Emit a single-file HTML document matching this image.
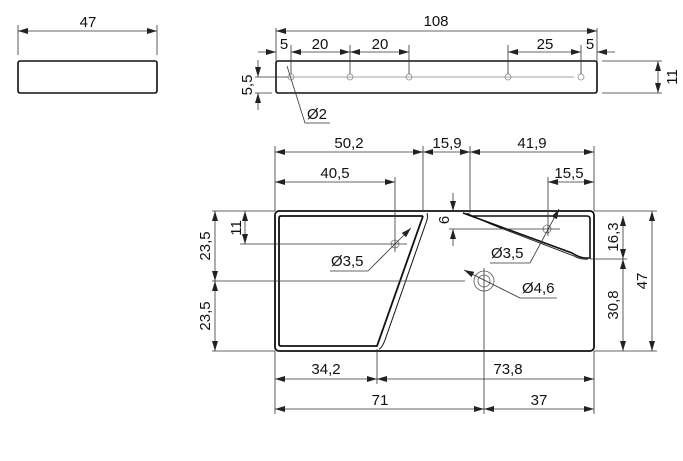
<!DOCTYPE html>
<html><head><meta charset="utf-8"><style>
html,body{margin:0;padding:0;background:#fff}
svg{display:block}
text{font-family:"Liberation Sans",sans-serif;font-size:15px;fill:#111}
</style></head><body>
<svg width="683" height="461" viewBox="0 0 683 461" xmlns="http://www.w3.org/2000/svg">
<defs>
<marker id="a" viewBox="0 0 10 6" refX="10" refY="3" markerWidth="10" markerHeight="6" orient="auto-start-reverse" markerUnits="userSpaceOnUse"><path d="M0,0 L10,3 L0,6 z" fill="#222"/></marker>
</defs>
<g stroke="#333" stroke-width="0.8" fill="none">
<!-- top-left block -->
<rect x="18" y="61" width="139" height="32" rx="2" stroke="#111" stroke-width="1.6"/>
<line x1="18" y1="25" x2="18" y2="55"/><line x1="157" y1="25" x2="157" y2="55"/>
<line x1="18" y1="31" x2="157" y2="31" marker-start="url(#a)" marker-end="url(#a)"/>
<!-- top bar -->
<rect x="276" y="61" width="321" height="32" rx="2" stroke="#111" stroke-width="1.6"/>
<line x1="276" y1="28" x2="276" y2="61"/><line x1="597" y1="28" x2="597" y2="61"/>
<line x1="276" y1="31" x2="597" y2="31" marker-start="url(#a)" marker-end="url(#a)"/>
<line x1="288" y1="77" x2="574" y2="77" stroke="#888"/>
<g stroke="#888"><circle cx="291" cy="77" r="3"/><circle cx="350" cy="77" r="3"/><circle cx="409" cy="77" r="3"/><circle cx="508" cy="77" r="3"/><circle cx="581" cy="77" r="3"/></g>
<line x1="291" y1="45" x2="291" y2="74"/><line x1="350" y1="45" x2="350" y2="74"/><line x1="409" y1="45" x2="409" y2="74"/><line x1="508" y1="45" x2="508" y2="74"/><line x1="581" y1="45" x2="581" y2="74"/>
<line x1="258" y1="52" x2="276" y2="52" marker-end="url(#a)"/>
<line x1="291" y1="52" x2="350" y2="52" marker-start="url(#a)" marker-end="url(#a)"/>
<line x1="350" y1="52" x2="409" y2="52" marker-start="url(#a)" marker-end="url(#a)"/>
<line x1="508" y1="52" x2="581" y2="52" marker-start="url(#a)" marker-end="url(#a)"/>
<line x1="615" y1="52" x2="597" y2="52" marker-end="url(#a)"/>
<line x1="602" y1="61" x2="662" y2="61"/><line x1="602" y1="93" x2="662" y2="93"/>
<line x1="658" y1="61" x2="658" y2="93" marker-start="url(#a)" marker-end="url(#a)"/>
<line x1="255" y1="77" x2="288" y2="77"/><line x1="255" y1="93" x2="272" y2="93"/>
<line x1="258" y1="60" x2="258" y2="77" marker-end="url(#a)"/>
<line x1="258" y1="110" x2="258" y2="93" marker-end="url(#a)"/>
<polyline points="287,66 305,123 330,123"/>
<!-- main plate -->
<rect x="275" y="211" width="319" height="140" rx="4" stroke="#111" stroke-width="1.8"/>
<path d="M423,216 L281,216 Q279,216 279,218 L279,344 Q279,346 281,346 L377,346 L423,216" stroke="#111" stroke-width="1.8"/>
<path d="M427,213 Q428,216 427,220 L385,340 Q382,348 379,349" stroke="#111" stroke-width="1"/>
<path d="M463,213 L472,216 L587,216 Q590,216 590,219 L590,258 L584,258 Q578,257 572,253 L463,213" stroke="#111" stroke-width="1.6"/>
<path d="M467,213 Q478,219 498,227 L574,256 Q581,260 588,259" stroke="#111" stroke-width="0.9"/>
<!-- holes -->
<g stroke="#777"><circle cx="395" cy="244" r="4"/><circle cx="547" cy="229" r="4"/></g>
<circle cx="484" cy="281" r="10" stroke="#555"/><circle cx="484" cy="281" r="6" stroke="#555"/>
<line x1="484" y1="268" x2="484" y2="414"/>
<line x1="212" y1="281" x2="465" y2="281"/>
<!-- top dims -->
<line x1="275" y1="146" x2="275" y2="211"/><line x1="423" y1="146" x2="423" y2="211"/><line x1="470" y1="146" x2="470" y2="213"/><line x1="594" y1="146" x2="594" y2="211"/>
<line x1="275" y1="152" x2="423" y2="152" marker-start="url(#a)" marker-end="url(#a)"/>
<line x1="423" y1="152" x2="470" y2="152" marker-start="url(#a)" marker-end="url(#a)"/>
<line x1="470" y1="152" x2="594" y2="152" marker-start="url(#a)" marker-end="url(#a)"/>
<line x1="395" y1="177" x2="395" y2="252"/>
<line x1="275" y1="182" x2="395" y2="182" marker-start="url(#a)" marker-end="url(#a)"/>
<line x1="548" y1="177" x2="548" y2="236"/>
<line x1="548" y1="182" x2="594" y2="182" marker-start="url(#a)" marker-end="url(#a)"/>
<!-- 6 -->
<line x1="453" y1="193" x2="453" y2="211" marker-end="url(#a)"/>
<line x1="453" y1="246" x2="453" y2="229" marker-end="url(#a)"/>
<line x1="449" y1="229" x2="560" y2="229"/>
<!-- left dims -->
<line x1="212" y1="211" x2="275" y2="211"/><line x1="212" y1="351" x2="275" y2="351"/>
<line x1="215" y1="211" x2="215" y2="281" marker-start="url(#a)" marker-end="url(#a)"/>
<line x1="215" y1="281" x2="215" y2="351" marker-start="url(#a)" marker-end="url(#a)"/>
<line x1="240" y1="244" x2="407" y2="244"/>
<line x1="245" y1="211" x2="245" y2="244" marker-start="url(#a)" marker-end="url(#a)"/>
<!-- right dims -->
<line x1="594" y1="211" x2="657" y2="211"/><line x1="594" y1="351" x2="657" y2="351"/><line x1="590" y1="259" x2="627" y2="259"/>
<line x1="623" y1="216" x2="623" y2="259" marker-start="url(#a)" marker-end="url(#a)"/>
<line x1="623" y1="259" x2="623" y2="351" marker-start="url(#a)" marker-end="url(#a)"/>
<line x1="652" y1="211" x2="652" y2="351" marker-start="url(#a)" marker-end="url(#a)"/>
<!-- bottom dims -->
<line x1="275" y1="351" x2="275" y2="414"/><line x1="594" y1="351" x2="594" y2="414"/><line x1="377" y1="349" x2="377" y2="384"/>
<line x1="275" y1="379" x2="377" y2="379" marker-start="url(#a)" marker-end="url(#a)"/>
<line x1="377" y1="379" x2="594" y2="379" marker-start="url(#a)" marker-end="url(#a)"/>
<line x1="275" y1="409" x2="484" y2="409" marker-start="url(#a)" marker-end="url(#a)"/>
<line x1="484" y1="409" x2="594" y2="409" marker-start="url(#a)" marker-end="url(#a)"/>
<!-- leaders -->
<line x1="411" y1="228" x2="368" y2="271" marker-start="url(#a)"/><line x1="330" y1="271" x2="368" y2="271"/>
<line x1="559" y1="209" x2="530" y2="263" marker-start="url(#a)"/><line x1="490" y1="263" x2="530" y2="263"/>
<line x1="464" y1="270" x2="520" y2="298" marker-start="url(#a)"/><line x1="520" y1="298" x2="557" y2="298"/>
</g>
<g>
<text x="88" y="27" text-anchor="middle">47</text>
<text x="436" y="26" text-anchor="middle">108</text>
<text x="284" y="49" text-anchor="middle">5</text>
<text x="320" y="49" text-anchor="middle">20</text>
<text x="380" y="49" text-anchor="middle">20</text>
<text x="545" y="49" text-anchor="middle">25</text>
<text x="590" y="49" text-anchor="middle">5</text>
<text transform="translate(677,77) rotate(-90)" text-anchor="middle">11</text>
<text transform="translate(252,85) rotate(-90)" text-anchor="middle">5,5</text>
<text x="307" y="119">Ø2</text>
<text x="349" y="148" text-anchor="middle">50,2</text>
<text x="447" y="148" text-anchor="middle">15,9</text>
<text x="532" y="148" text-anchor="middle">41,9</text>
<text x="335" y="178" text-anchor="middle">40,5</text>
<text x="569" y="178" text-anchor="middle">15,5</text>
<text transform="translate(449,220) rotate(-90)" text-anchor="middle">6</text>
<text transform="translate(210,246) rotate(-90)" text-anchor="middle">23,5</text>
<text transform="translate(210,316) rotate(-90)" text-anchor="middle">23,5</text>
<text transform="translate(241,228) rotate(-90)" text-anchor="middle">11</text>
<text x="331" y="266">Ø3,5</text>
<text x="491" y="258">Ø3,5</text>
<text x="522" y="293">Ø4,6</text>
<text transform="translate(618,237) rotate(-90)" text-anchor="middle">16,3</text>
<text transform="translate(618,305) rotate(-90)" text-anchor="middle">30,8</text>
<text transform="translate(647,281) rotate(-90)" text-anchor="middle">47</text>
<text x="326" y="374" text-anchor="middle">34,2</text>
<text x="508" y="374" text-anchor="middle">73,8</text>
<text x="380" y="405" text-anchor="middle">71</text>
<text x="539" y="405" text-anchor="middle">37</text>
</g>
</svg>
</body></html>
